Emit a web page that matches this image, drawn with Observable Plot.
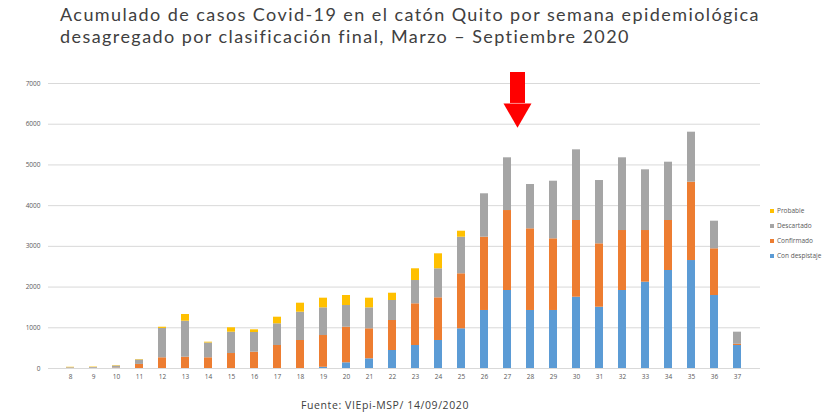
<!DOCTYPE html>
<html>
<head>
<meta charset="utf-8">
<script src="https://cdn.jsdelivr.net/npm/d3@7"></script>
<script src="https://cdn.jsdelivr.net/npm/@observablehq/plot@0.6"></script>
<style>
  html, body { margin: 0; padding: 0; background: #ffffff; }
  body { width: 822px; height: 414px; position: relative; overflow: hidden; font-family: "Open Sans", sans-serif; }
  .tline { position: absolute; left: 60px; font-family: Lato, sans-serif; font-size: 18px; line-height: 22px; color: #404040; white-space: nowrap; letter-spacing: 1px; }
  #t1 { top: 3px; }
  #t2 { top: 25px; }
  #chart { position: absolute; left: 0; top: 60px; }
  #legend { position: absolute; left: 770px; top: 203px; font-size: 6.5px; color: #595959; line-height: 15px; }
  #legend .sw { display: inline-block; width: 4px; height: 4px; margin-right: 3px; vertical-align: middle; }
  #caption { position: absolute; left: 0; width: 770px; top: 398px; text-align: center; font-size: 10.5px; letter-spacing: 0.6px; color: #404040; }
</style>
</head>
<body>
<div class="tline" id="t1">Acumulado de casos Covid-19 en el catón Quito por semana epidemiológica</div>
<div class="tline" id="t2">desagregado por clasificación final, Marzo – Septiembre 2020</div>
<div id="chart"></div>
<div id="legend"></div>
<div id="caption">Fuente: VIEpi-MSP/ 14/09/2020</div>
<script>
// Semanas epidemiológicas
const semanas = [8, 9, 10, 11, 12, 13, 14, 15, 16, 17, 18, 19, 20, 21, 22, 23, 24, 25, 26, 27, 28, 29, 30, 31, 32, 33, 34, 35, 36, 37];

// Series (stacked bottom to top)
const conDespistaje = [0, 0, 0, 0, 0, 0, 0, 0, 0, 0, 0, 30, 140, 238, 442, 565, 688, 975, 1425, 1916, 1425, 1425, 1751, 1505, 1916, 2120, 2407, 2652, 1793, 565];
const confirmado   = [5, 5, 10, 100, 263, 278, 263, 368, 400, 565, 688, 780, 874, 737, 737, 1024, 1048, 1351, 1800, 1964, 2006, 1760, 1884, 1557, 1473, 1269, 1228, 1924, 1147, 30];
const descartado   = [15, 20, 50, 110, 721, 884, 363, 524, 484, 533, 695, 680, 533, 515, 491, 572, 713, 899, 1066, 1295, 1088, 1415, 1736, 1555, 1786, 1491, 1432, 1228, 678, 297];
const probable     = [10, 10, 10, 10, 30, 164, 20, 108, 66, 162, 221, 237, 246, 237, 179, 288, 368, 147, 0, 0, 0, 0, 0, 0, 0, 0, 0, 0, 0, 0];

const seriesNames  = ["Con despistaje", "Confirmado", "Descartado", "Probable"];
const seriesColors = ["#5b9bd5", "#ed7d31", "#a5a5a5", "#ffc000"];
const seriesValues = [conDespistaje, confirmado, descartado, probable];

const yTicks = [0, 1000, 2000, 3000, 4000, 5000, 6000, 7000];

// Annotation: red arrow over week 27
const arrowWeek = 27;
const arrowTop = 7270;
const arrowNeck = 6510;
const arrowHeadCenter = 6313;

// Fit title line 1 to the reference width (~700px) via letter-spacing
(function fitTitle() {
  const t1 = document.getElementById("t1"), t2 = document.getElementById("t2");
  t1.style.letterSpacing = "0px";
  const w0 = t1.getBoundingClientRect().width;
  const n = t1.textContent.length;
  const ls = Math.max(0, (700 - w0) / n);
  t1.style.letterSpacing = ls + "px";
  t2.style.letterSpacing = ls + "px";
})();

const rows = [];
semanas.forEach((w, i) => {
  seriesNames.forEach((s, k) => rows.push({semana: w, serie: s, casos: seriesValues[k][i]}));
});

const chart = Plot.plot({
  width: 822,
  height: 335,
  marginLeft: 48,
  marginRight: 62,
  marginTop: 23,
  marginBottom: 27,
  style: {fontFamily: "Open Sans, sans-serif", background: "transparent"},
  x: {type: "band", domain: semanas, paddingInner: 0.65, paddingOuter: 0.325, label: null},
  y: {domain: [0, 7000], label: null},
  color: {domain: seriesNames, range: seriesColors},
  marks: [
    Plot.gridY(yTicks, {stroke: "#d9d9d9", strokeOpacity: 1, strokeWidth: 1}),
    Plot.axisY(yTicks, {tickSize: 0, tickPadding: 8, fontSize: 6.5, fill: "#595959", label: null, tickFormat: d => String(d)}),
    Plot.axisX({tickSize: 0, tickPadding: 6, fontSize: 6.5, fill: "#595959", label: null}),
    Plot.barY(rows, Plot.stackY({x: "semana", y: "casos", fill: "serie", order: seriesNames})),
    Plot.ruleX([arrowWeek], {y1: arrowTop, y2: arrowNeck, stroke: "#ff0000", strokeWidth: 15, dx: 10}),
    Plot.dot([arrowWeek], {x: d => d, y: arrowHeadCenter, symbol: "triangle", r: 10.4, rotate: 180, fill: "#ff0000", stroke: "none", dx: 10})
  ]
});
document.getElementById("chart").appendChild(chart);

const legend = document.getElementById("legend");
[...seriesNames.keys()].reverse().forEach(k => {
  const row = document.createElement("div");
  row.innerHTML = `<span class="sw" style="background:${seriesColors[k]}"></span>${seriesNames[k]}`;
  legend.appendChild(row);
});
</script>
</body>
</html>
